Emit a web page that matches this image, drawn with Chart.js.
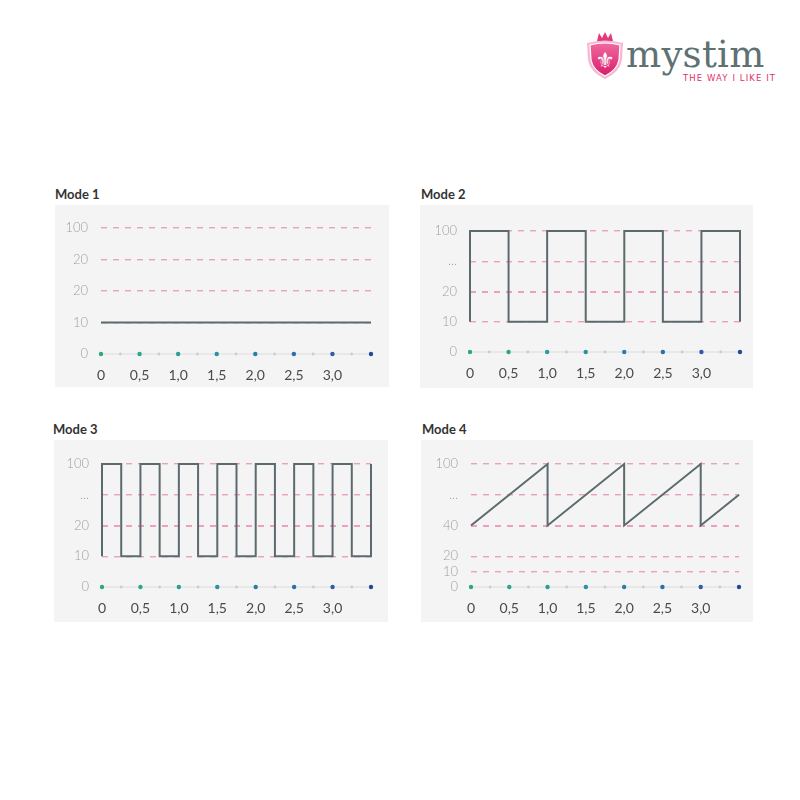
<!DOCTYPE html>
<html>
<head>
<meta charset="utf-8">
<script src="https://cdn.jsdelivr.net/npm/chart.js@4"></script>
<style>
    body { margin: 0; background: #fff; font-family: Lato, sans-serif; }
    #page { position: relative; width: 800px; height: 800px; overflow: hidden; }
    .title { position: absolute; font: bold 13px Lato, sans-serif; color: #333; }
    .panel { position: absolute; background: #f4f4f4; }
    .panel canvas { display: block; }
    .brand { position: absolute; left: 626px; top: 33px; font: 37px "DejaVu Serif", serif; color: #5e7173; letter-spacing: 0.3px; }
    .slogan { position: absolute; left: 683px; top: 73px; font: 8.5px "DejaVu Sans", sans-serif; color: #e0306a; letter-spacing: 1.1px; white-space: nowrap; }
</style>
</head>
<body>
<div id="page">
    <!-- logo -->
    <svg style="position:absolute;left:584px;top:30px" width="42" height="52" viewBox="0 0 42 52">
        <defs>
            <linearGradient id="pinkGrad" x1="0" y1="0" x2="0" y2="1">
                <stop offset="0" stop-color="#f06aa0"/>
                <stop offset="1" stop-color="#d81c6a"/>
            </linearGradient>
        </defs>
        <path d="M13 11 L15 3 L18 8 L21 2 L24 8 L27 3 L29 11 Z" fill="#e23a7e"/>
        <path d="M3 13 Q21 8 39 13 L38 30 Q36 42 21 49 Q6 42 4 30 Z" fill="#f7b9d2"/>
        <path d="M6 15 Q21 11 36 15 L35 30 Q33 40 21 46 Q9 40 7 30 Z" fill="url(#pinkGrad)" stroke="#fff" stroke-width="1.2"/>
        <text x="21" y="38" text-anchor="middle" font-family="DejaVu Sans" font-size="22" fill="#fff">⚜</text>
    </svg>
    <div class="brand">mystim</div>
    <div class="slogan">THE WAY I LIKE IT</div>

    <div class="title" style="left:55px;top:186px">Mode 1</div>
    <div class="title" style="left:421px;top:186px">Mode 2</div>
    <div class="title" style="left:53px;top:421px">Mode 3</div>
    <div class="title" style="left:422px;top:421px">Mode 4</div>

    <div class="panel" style="left:55px;top:205px;width:334px;height:182px"><canvas id="mode1"></canvas></div>
    <div class="panel" style="left:420px;top:205px;width:333px;height:183px"><canvas id="mode2"></canvas></div>
    <div class="panel" style="left:54px;top:440px;width:334px;height:182px"><canvas id="mode3"></canvas></div>
    <div class="panel" style="left:421px;top:440px;width:332px;height:182px"><canvas id="mode4"></canvas></div>
</div>

<script>
// Shared x axis (time)
const xTicks = [0, 0.5, 1, 1.5, 2, 2.5, 3, 3.5];
const xTickLabels = ['0', '0,5', '1,0', '1,5', '2,0', '2,5', '3,0', ''];
const axisDotX = [0, 0.25, 0.5, 0.75, 1, 1.25, 1.5, 1.75, 2, 2.25, 2.5, 2.75, 3, 3.25, 3.5];

// Mode 1: constant
const mode1YTicks = [0, 2, 4, 6, 8];
const mode1YLabels = ['0', '10', '20', '20', '100'];
const mode1X = [0, 3.5];
const mode1Y = [2, 2];

// Mode 2: slow pulse
const mode2YTicks = [0, 2, 4, 6, 8];
const mode2YLabels = ['0', '10', '20', '...', '100'];
const mode2X = [0, 0, 0.5, 0.5, 1, 1, 1.5, 1.5, 2, 2, 2.5, 2.5, 3, 3, 3.5, 3.5];
const mode2Y = [2, 8, 8, 2, 2, 8, 8, 2, 2, 8, 8, 2, 2, 8, 8, 2];

// Mode 3: fast pulse
const mode3YTicks = [0, 2, 4, 6, 8];
const mode3YLabels = ['0', '10', '20', '...', '100'];
const mode3X = [0, 0, 0.25, 0.25, 0.5, 0.5, 0.75, 0.75, 1, 1, 1.25, 1.25, 1.5, 1.5, 1.75, 1.75,
    2, 2, 2.25, 2.25, 2.5, 2.5, 2.75, 2.75, 3, 3, 3.25, 3.25, 3.5, 3.5];
const mode3Y = [2, 8, 8, 2, 2, 8, 8, 2, 2, 8, 8, 2, 2, 8, 8, 2,
    2, 8, 8, 2, 2, 8, 8, 2, 2, 8, 8, 2, 2, 8];

// Mode 4: ramp
const mode4YTicks = [0, 1, 2, 4, 6, 8];
const mode4YLabels = ['0', '10', '20', '40', '...', '100'];
const mode4X = [0, 1, 1, 2, 2, 3, 3, 3.5];
const mode4Y = [4, 8, 4, 8, 4, 8, 4, 6];

// Styles
const lineColor = '#5b6b6d';
const gridPink = '#ec9fbe';
const dotColors = ['#2aa884', '#ccc', '#2aa68c', '#ccc', '#2a9d97', '#ccc', '#2a92a0', '#ccc',
    '#2a7fa8', '#ccc', '#2a6fab', '#ccc', '#2a5ea6', '#ccc', '#24479a'];

function toPoints(xs, ys) {
    return xs.map((x, i) => ({ x: x, y: ys[i] }));
}

function makeChart(id, xs, ys, yTicks, yLabels, box) {
    const ctx = document.getElementById(id).getContext('2d');
    return new Chart(ctx, {
        type: 'line',
        data: {
            datasets: [{
                data: toPoints(xs, ys),
                borderColor: lineColor,
                borderWidth: 2,
                pointRadius: 0,
                fill: false,
                clip: false
            }, {
                data: axisDotX.map(x => ({ x: x, y: 0 })),
                borderColor: '#dcdcdc',
                borderWidth: 1,
                pointRadius: axisDotX.map((x, i) => i % 2 === 0 ? 2.2 : 1.4),
                pointBackgroundColor: dotColors,
                pointBorderWidth: 0,
                clip: false
            }]
        },
        options: {
            responsive: true,
            maintainAspectRatio: false,
            animation: false,
            layout: {
                padding: { top: box.top, right: box.right, left: 0, bottom: 0 }
            },
            plugins: {
                legend: { display: false },
                tooltip: { enabled: false }
            },
            scales: {
                x: {
                    type: 'linear',
                    min: 0,
                    max: 3.5,
                    afterBuildTicks: scale => { scale.ticks = xTicks.map(v => ({ value: v })); },
                    afterFit: scale => { scale.height = box.bottom; },
                    grid: { display: false },
                    border: { display: false },
                    ticks: {
                        autoSkip: false,
                        maxRotation: 0,
                        padding: 5,
                        color: '#4a4a4a',
                        font: { family: 'Lato', size: 14 },
                        callback: (v, i) => xTickLabels[i]
                    }
                },
                y: {
                    type: 'linear',
                    min: 0,
                    max: 8,
                    afterBuildTicks: scale => { scale.ticks = yTicks.map(v => ({ value: v })); },
                    afterFit: scale => { scale.width = box.left; },
                    grid: {
                        drawTicks: false,
                        lineWidth: c => (c.tick && c.tick.value === box.strong) ? 2 : 1.4,
                        color: c => (c.tick && c.tick.value === 0) ? 'rgba(0,0,0,0)' : gridPink
                    },
                    border: { display: false, dash: [6, 6] },
                    ticks: {
                        padding: 13,
                        color: '#a0a0a0',
                        font: { family: 'Lato', size: 13, weight: 300 },
                        callback: (v, i) => yLabels[i]
                    }
                }
            }
        }
    });
}

document.addEventListener('DOMContentLoaded', () => {
    makeChart('mode1', mode1X, mode1Y, mode1YTicks, mode1YLabels, { left: 46, right: 18, top: 23, bottom: 33, strong: -1 });
    makeChart('mode2', mode2X, mode2Y, mode2YTicks, mode2YLabels, { left: 50, right: 13, top: 26, bottom: 36, strong: 4 });
    makeChart('mode3', mode3X, mode3Y, mode3YTicks, mode3YLabels, { left: 48, right: 17, top: 24, bottom: 35, strong: 4 });
    makeChart('mode4', mode4X, mode4Y, mode4YTicks, mode4YLabels, { left: 50, right: 14, top: 24, bottom: 35, strong: 4 });
});
</script>
</body>
</html>
